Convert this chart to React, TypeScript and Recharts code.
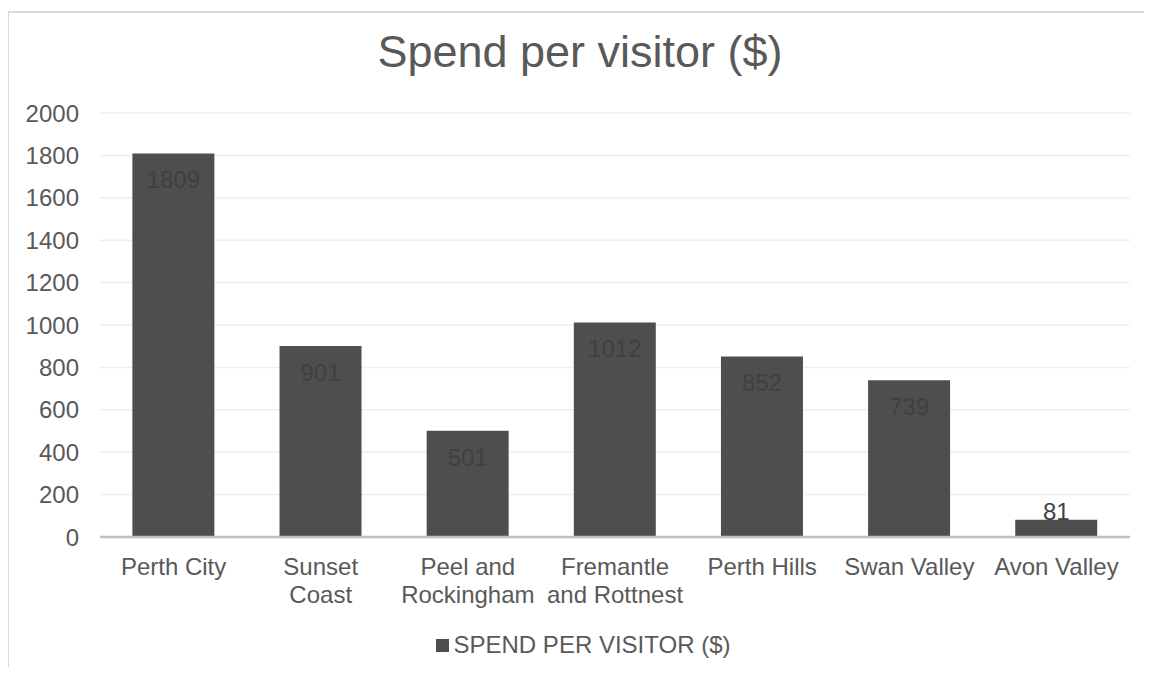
import React from 'react';
import { BarChart, Bar, XAxis, YAxis, CartesianGrid, Legend, LabelList } from 'recharts';

const categories = ['Perth City', 'Sunset Coast', 'Peel and Rockingham', 'Fremantle and Rottnest', 'Perth Hills', 'Swan Valley', 'Avon Valley'];
const spendValues = [1809, 901, 501, 1012, 852, 739, 81];
const tickLines: string[][] = [
  ['Perth City'],
  ['Sunset', 'Coast'],
  ['Peel and', 'Rockingham'],
  ['Fremantle', 'and Rottnest'],
  ['Perth Hills'],
  ['Swan Valley'],
  ['Avon Valley'],
];
const yTicks = [0, 200, 400, 600, 800, 1000, 1200, 1400, 1600, 1800, 2000];
const seriesName = 'SPEND PER VISITOR ($)';
const titleText = 'Spend per visitor ($)';

const data = categories.map((c, i) => ({ name: c, value: spendValues[i] }));

const FONT = '"Liberation Sans", Arial, sans-serif';
const TEXT = '#595959';

const XTick = (props: any) => {
  const { x, y, payload } = props;
  const lines = tickLines[payload.index] || [payload.value];
  return (
    <text x={x} y={y} textAnchor="middle" fill={TEXT} fontSize={24} fontFamily={FONT}>
      {lines.map((l, i) => (
        <tspan key={i} x={x} dy={i === 0 ? 38 : 28}>{l}</tspan>
      ))}
    </text>
  );
};

const BarLabel = (props: any) => {
  const { x, y, width, height, value } = props;
  const cx = x + width / 2;
  const inside = height > 40;
  return (
    <text x={cx} y={inside ? y + 35 : y} textAnchor="middle" fill="#404040" fontSize={24} fontFamily={FONT}>
      {value}
    </text>
  );
};

const LegendContent = () => (
  <div style={{ display: 'flex', justifyContent: 'center', alignItems: 'center', fontFamily: FONT, fontSize: 24, lineHeight: '28px', color: TEXT }}>
    <span style={{ display: 'inline-block', width: 13, height: 13, background: '#4e4e4e', marginRight: 5 }} />
    <span>{seriesName}</span>
  </div>
);

export default function App() {
  return (
    <div style={{ position: 'relative', width: 1136, height: 659 }}>
      <style>{'html, body { overflow: hidden; }'}</style>
      <div style={{ position: 'absolute', left: -1, top: 3, width: 1145, height: 664, borderLeft: '2px solid #d9d9d9', borderTop: '2px solid #d9d9d9', boxSizing: 'border-box' }} />
      <div style={{ position: 'absolute', left: -1, width: 1146, top: 18, textAlign: 'center', fontFamily: FONT, fontSize: 45, lineHeight: '52px', color: TEXT }}>
        {titleText}
      </div>
      <div style={{ position: 'absolute', left: -8, top: -8 }}>
        <BarChart width={1152} height={675} data={data} margin={{ top: 113, right: 22, left: 20, bottom: 30 }} barCategoryGap="22%">
          <CartesianGrid vertical={false} stroke="#efefef" strokeWidth={1.5} />
          <XAxis dataKey="name" interval={0} tickLine={false} tickSize={0} tickMargin={0} height={80} axisLine={{ stroke: '#bfbfbf', strokeWidth: 2.5 }} tick={<XTick />} />
          <YAxis domain={[0, 2000]} ticks={yTicks} width={80} axisLine={false} tickLine={false} tickSize={0} tickMargin={21} tick={{ fill: TEXT, fontSize: 24, fontFamily: FONT }} />
          <Legend verticalAlign="bottom" height={28} content={<LegendContent />} wrapperStyle={{ position: 'absolute', left: 14, width: 1138, top: 631, bottom: 'auto' }} />
          <Bar dataKey="value" name={seriesName} fill="#4e4e4e" isAnimationActive={false}>
            <LabelList dataKey="value" content={<BarLabel />} />
          </Bar>
        </BarChart>
      </div>
    </div>
  );
}
